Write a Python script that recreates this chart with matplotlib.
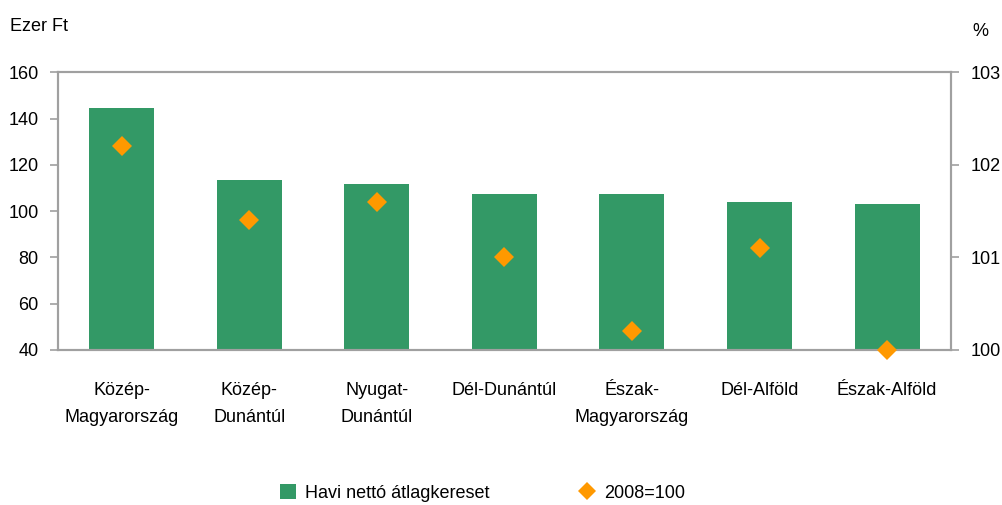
import matplotlib

matplotlib.use("Agg")
import matplotlib.pyplot as plt
from matplotlib.lines import Line2D
from matplotlib.patches import Patch

plt.rcParams["font.family"] = ["Liberation Sans", "DejaVu Sans"]

regions = ["Közép-\nMagyarország", "Közép-\nDunántúl", "Nyugat-\nDunántúl", "Dél-Dunántúl",
           "Észak-\nMagyarország", "Dél-Alföld", "Észak-Alföld"]
wage = [144.5, 113.4, 111.7, 107.3, 107.3, 103.9, 103.0]
index_2008 = [102.2, 101.4, 101.6, 101.0, 100.2, 101.1, 100.0]

GREEN = "#339966"
ORANGE = "#FF9900"
GRID = "#A0A0A0"
FS = 13

fig = plt.figure(figsize=(10.03, 5.05), dpi=100)
ax = fig.add_axes([0.0578, 0.307, 0.8902, 0.550])
x = range(len(regions))
ax.bar(x, wage, width=0.51, color=GREEN, zorder=2)
ax.set_ylim(40, 160)
ax.set_xlim(-0.5, len(regions) - 0.5)
ax.set_yticks(range(40, 161, 20))
ax.set_xticks(list(x))
ax.set_xticklabels(regions, fontsize=FS, linespacing=1.8)
ax.tick_params(axis="x", length=0, pad=23)
ax.tick_params(axis="y", length=6, width=1.2, color=GRID, pad=8, labelsize=FS)

ax2 = ax.twinx()
ax2.plot(x, index_2008, linestyle="none", marker="D", markersize=10.5, color=ORANGE,
         markeredgewidth=0, zorder=3, clip_on=False)
ax2.set_ylim(100, 103)
ax2.set_yticks([100, 101, 102, 103])
ax2.tick_params(axis="y", length=6, width=1.2, color=GRID, pad=8, labelsize=FS)

for a in (ax, ax2):
    for s in a.spines.values():
        s.set_color(GRID)
        s.set_linewidth(1.5)

fig.text(0.010, 0.948, "Ezer Ft", fontsize=FS, va="center", ha="left")
fig.text(0.969, 0.938, "%", fontsize=FS, va="center", ha="left")

handles = [
    Patch(facecolor=GREEN, edgecolor="none"),
    Line2D([], [], linestyle="none", marker="D", markersize=9, color=ORANGE, markeredgewidth=0),
]
fig.legend(handles, ["Havi nettó átlagkereset", "2008=100"], loc="center",
           bbox_to_anchor=(0.481, 0.024), ncol=2, frameon=False, fontsize=FS,
           handlelength=0.85, handleheight=0.85, handletextpad=0.5, columnspacing=5.0)

fig.savefig("out.png", dpi=100)
